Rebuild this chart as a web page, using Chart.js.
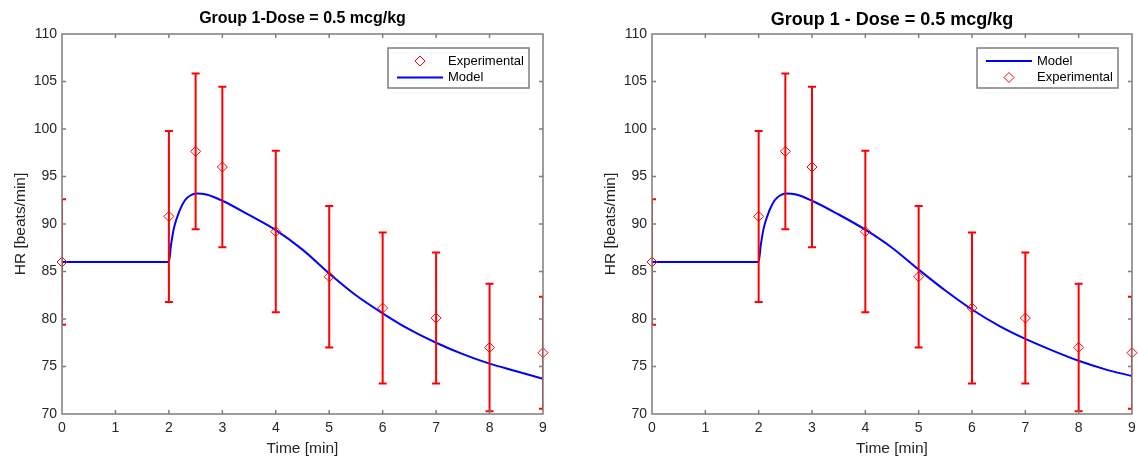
<!DOCTYPE html>
<html lang="en">
<head>
<meta charset="UTF-8">
<title>Group 1 - HR response</title>
<script src="https://cdn.jsdelivr.net/npm/chart.js"></script>
<style>
    body {
        margin: 0;
        background: #fff;
        overflow: hidden;
    }
    .panel {
        position: absolute;
        top: 0;
        width: 569px;
        height: 462px;
    }
    #left { left: 0; }
    #right { left: 569px; }
</style>
</head>
<body>
<div class="panel" id="left"><canvas id="chartA" width="569" height="462"></canvas></div>
<div class="panel" id="right"><canvas id="chartB" width="569" height="462"></canvas></div>

<script>
    // measured heart rate (mean and +/- spread) at each sampling time
    const expTime = [0, 2, 2.5, 3, 4, 5, 6, 7, 8, 9];
    const expHR   = [86.0, 90.8, 97.65, 96.0, 89.2, 84.45, 81.15, 80.1, 77.0, 76.45];
    const expErr  = [6.6, 9.0, 8.2, 8.45, 8.5, 7.45, 7.95, 6.9, 6.7, 5.9];

    // model output, sampled along the curve
    const modelTime = [0, 2, 2.04, 2.1, 2.2, 2.3, 2.4, 2.52, 2.7, 3, 3.5, 4, 4.5, 5, 5.5, 6, 6.5, 7, 7.5, 8, 8.5, 9];
    const modelHrA  = [86, 86, 87.8, 89.7, 91.4, 92.5, 93.0, 93.2, 93.1, 92.45, 90.95, 89.35, 87.3, 84.8, 82.5, 80.6, 78.9, 77.5, 76.3, 75.3, 74.5, 73.7];
    const modelHrB  = [86, 86, 87.8, 89.7, 91.4, 92.5, 93.0, 93.2, 93.1, 92.45, 91.0, 89.4, 87.5, 85.2, 83.0, 81.0, 79.3, 77.9, 76.7, 75.6, 74.7, 74.0];

    const xRange = [0, 9];
    const yRange = [70, 110];

    const FONT = "'Liberation Sans', Arial, Helvetica, sans-serif";
    const TEXT_COLOR = '#262626';
    const BOX_COLOR = '#7d7d7d';

    // matlab-like axes: inside ticks on all four sides, closed box, boxed legend, error bars
    const matlabAxes = {
        id: 'matlabAxes',
        afterLayout(chart) {
            // keep the title centred over the plot box
            const t = chart.titleBlock;
            if (t) {
                t.left = chart.chartArea.left;
                t.right = chart.chartArea.right;
            }
        },
        beforeDatasetDraw(chart, args) {
            const ds = chart.data.datasets[args.index];
            if (!ds.errors) return;
            const ctx = chart.ctx;
            const area = chart.chartArea;
            const xs = chart.scales.x, ys = chart.scales.y;
            ctx.save();
            ctx.beginPath();
            ctx.rect(area.left, area.top, area.right - area.left, area.bottom - area.top);
            ctx.clip();
            ctx.strokeStyle = ds.borderColor;
            ctx.lineWidth = 2;
            ds.data.forEach((p, i) => {
                const x = xs.getPixelForValue(p.x);
                const hi = ys.getPixelForValue(p.y + ds.errors[i]);
                const lo = ys.getPixelForValue(p.y - ds.errors[i]);
                ctx.beginPath();
                ctx.moveTo(x, hi); ctx.lineTo(x, lo);
                ctx.moveTo(x - 4, hi); ctx.lineTo(x + 4, hi);
                ctx.moveTo(x - 4, lo); ctx.lineTo(x + 4, lo);
                ctx.stroke();
            });
            ctx.restore();
        },
        afterDraw(chart, args, opts) {
            const ctx = chart.ctx;
            const a = chart.chartArea;
            const xs = chart.scales.x, ys = chart.scales.y;
            const tl = 4;

            ctx.save();
            ctx.strokeStyle = BOX_COLOR;
            ctx.lineWidth = 1.5;
            ctx.beginPath();
            xs.ticks.forEach(t => {
                if (t.value <= xs.min || t.value >= xs.max) return;
                const x = xs.getPixelForValue(t.value);
                ctx.moveTo(x, a.bottom); ctx.lineTo(x, a.bottom - tl);
                ctx.moveTo(x, a.top); ctx.lineTo(x, a.top + tl);
            });
            ys.ticks.forEach(t => {
                if (t.value <= ys.min || t.value >= ys.max) return;
                const y = ys.getPixelForValue(t.value);
                ctx.moveTo(a.left, y); ctx.lineTo(a.left + tl, y);
                ctx.moveTo(a.right, y); ctx.lineTo(a.right - tl, y);
            });
            ctx.stroke();
            ctx.strokeRect(a.left, a.top, a.right - a.left, a.bottom - a.top);

            // legend box in the upper right corner
            const bw = 141, bh = 40;
            const bx = a.right - 14 - bw, by = a.top + 14;
            ctx.fillStyle = '#fff';
            ctx.fillRect(bx, by, bw, bh);
            ctx.lineWidth = 1.5;
            ctx.strokeRect(bx, by, bw, bh);
            ctx.font = '13px ' + FONT;
            ctx.textBaseline = 'middle';
            ctx.textAlign = 'left';
            opts.order.forEach((idx, row) => {
                const ds = chart.data.datasets[idx];
                const y = by + 13 + row * 16.5;
                if (ds.errors) {
                    const cx = bx + 32, r = 5;
                    ctx.strokeStyle = ds.borderColor;
                    ctx.lineWidth = 1;
                    ctx.beginPath();
                    ctx.moveTo(cx, y - r); ctx.lineTo(cx + r, y);
                    ctx.lineTo(cx, y + r); ctx.lineTo(cx - r, y);
                    ctx.closePath();
                    ctx.stroke();
                } else {
                    ctx.strokeStyle = ds.borderColor;
                    ctx.lineWidth = 2;
                    ctx.beginPath();
                    ctx.moveTo(bx + 9, y); ctx.lineTo(bx + 55, y);
                    ctx.stroke();
                }
                ctx.fillStyle = '#000';
                ctx.fillText(ds.label, bx + 60, y);
            });
            ctx.restore();
        }
    };

    function points(xv, yv) {
        return xv.map((x, i) => ({ x: x, y: yv[i] }));
    }

    function makeChart(id, modelHR, titleText, titleSize, pad, legendOrder) {
        const lh = titleSize * 1.2;
        const datasets = [
            {
                type: 'scatter',
                label: 'Experimental',
                data: points(expTime, expHR),
                errors: expErr,
                pointStyle: 'rectRot',
                pointRadius: 5,
                borderWidth: 1,
                borderColor: '#ff0000',
                backgroundColor: 'rgba(0,0,0,0)',
                clip: false
            },
            {
                type: 'line',
                label: 'Model',
                data: points(modelTime, modelHR),
                borderColor: '#0000ff',
                borderWidth: 2,
                pointRadius: 0,
                fill: false,
                cubicInterpolationMode: 'monotone'
            }
        ];

        return new Chart(document.getElementById(id), {
            type: 'scatter',
            data: { datasets: datasets },
            plugins: [matlabAxes],
            options: {
                responsive: false,
                animation: false,
                devicePixelRatio: 1,
                layout: { padding: { left: pad[0], right: pad[1], top: 0, bottom: 0 } },
                plugins: {
                    legend: { display: false },
                    tooltip: { enabled: false },
                    title: {
                        display: true,
                        text: titleText,
                        color: '#000',
                        font: { family: FONT, size: titleSize, weight: 'bold' },
                        padding: { top: 9, bottom: 34 - 9 - lh }
                    },
                    matlabAxes: { order: legendOrder }
                },
                scales: {
                    x: {
                        type: 'linear',
                        min: xRange[0],
                        max: xRange[1],
                        grid: { display: false, drawTicks: false },
                        border: { display: false },
                        ticks: {
                            stepSize: 1,
                            autoSkip: false,
                            maxRotation: 0,
                            padding: 6,
                            color: TEXT_COLOR,
                            font: { family: FONT, size: 14 }
                        },
                        title: {
                            display: true,
                            text: 'Time [min]',
                            color: TEXT_COLOR,
                            font: { family: FONT, size: 15.5 },
                            padding: { top: 0, bottom: 4 }
                        },
                        afterFit: s => {
                            s.height = 48;
                            // let the end labels hang past the plot box
                            s.paddingLeft = 0;
                            s.paddingRight = 0;
                        }
                    },
                    y: {
                        min: yRange[0],
                        max: yRange[1],
                        grid: { display: false, drawTicks: false },
                        border: { display: false },
                        ticks: {
                            stepSize: 5,
                            padding: 5,
                            color: TEXT_COLOR,
                            font: { family: FONT, size: 14 }
                        },
                        title: {
                            display: true,
                            text: 'HR [beats/min]',
                            color: TEXT_COLOR,
                            font: { family: FONT, size: 15.5 },
                            padding: { top: 11, bottom: 0 }
                        },
                        afterFit: s => { s.width = 62; }
                    }
                }
            }
        });
    }

    makeChart('chartA', modelHrA, 'Group 1-Dose = 0.5 mcg/kg', 16, [0, 26], [0, 1]);
    makeChart('chartB', modelHrB, 'Group 1 - Dose = 0.5 mcg/kg', 18, [21, 5], [1, 0]);
</script>
</body>
</html>
